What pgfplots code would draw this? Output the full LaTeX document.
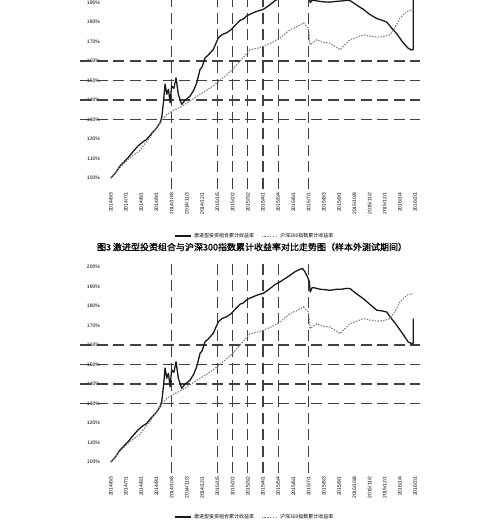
\documentclass[border=0pt]{standalone}
\usepackage{pgfplots}
\pgfplotsset{compat=1.18}
\usepackage{pgfplotstable}
\usepackage{fontspec}
\setmainfont{Liberation Sans}
\newfontfamily\cjk{Noto Sans CJK SC}
\newfontfamily\cjkb[FakeBold=1.2]{Noto Sans CJK SC}

\pgfplotstableread{
x y
0 100
0.3 102.5
0.61 106.2
0.9 108.5
1.2 111
1.49 113.8
1.8 116.5
2.1 118.5
2.36 119.8
2.7 123
3.0 125.5
3.24 128.4
3.35 131
3.46 138.6
3.57 148.2
3.68 143
3.79 145.5
3.9 138.6
4.0 147.2
4.15 146
4.29 151.4
4.44 142.9
4.66 137.8
4.9 140
5.21 142
5.45 145
5.65 148.9
5.87 155.7
6.0 157
6.2 161.7
6.4 163
6.74 166
7.07 171.9
7.3 173.5
7.62 174.5
7.9 176
8.2 178.5
8.5 180.9
8.7 181.5
8.94 183.2
9.15 184
9.6 185.5
10.03 186.5
10.4 188.5
10.8 191
11.12 192.3
11.45 194
11.78 195.7
12.1 197.5
12.44 198.8
12.6 199.2
12.77 197.4
12.95 194.5
13.05 192.3
13.1 187.2
13.25 189.5
13.42 189.2
13.8 188.5
14.1 188.3
14.4 188
14.8 188.5
15.2 188.6
15.5 189
15.72 188.9
16.1 186.5
16.6 183.7
17.0 181
17.48 177.8
17.8 177.5
18.13 176.9
18.45 173.5
18.79 170.1
19.2 165.5
19.55 161.5
19.77 160.7
19.88 161
19.88 173.5
}\solidB

\pgfplotstableread{
x y
0 100
0.3 102.5
0.61 106.2
0.9 108.5
1.2 111
1.49 113.8
1.8 116.5
2.1 118.5
2.36 119.8
2.7 123
3.0 125.5
3.24 128.4
3.35 131
3.46 138.6
3.57 148.2
3.68 143
3.79 145.5
3.9 138.6
4.0 147.2
4.15 146
4.29 151.4
4.44 142.9
4.66 137.8
4.9 140
5.21 142
5.45 145
5.65 148.9
5.87 155.7
6.0 157
6.2 161.7
6.4 163
6.74 166
7.07 171.9
7.3 173.5
7.62 174.5
7.9 176
8.2 178.5
8.5 180.9
8.7 181.5
8.94 183.2
9.15 184
9.6 185.5
10.03 186.5
10.4 188.5
10.8 191
11.12 192.3
11.45 194
11.78 195.7
12.1 197.5
12.44 198.8
12.6 199.2
12.77 197.4
12.95 194.5
13.05 193.5
13.1 190
13.25 191.2
13.42 191
13.8 190.5
14.1 190.3
14.4 190.2
14.8 190.6
15.2 190.8
15.5 191.2
15.72 191
16.1 189
16.6 186.5
17.0 184
17.48 181.8
17.8 181
18.13 180
18.45 177
18.79 174
19.2 169.5
19.55 166.5
19.77 165.6
19.88 166
19.88 196
}\solidA

\pgfplotstableread{
x y
0 100
0.6 105.5
1.27 110.5
1.9 114
2.12 116.4
2.6 121
3.1 127
3.7 132.8
4.2 135
4.69 136.9
5.2 139.5
5.67 142
6.2 144.5
6.72 147.2
7.4 151.5
8.04 155.9
8.5 160
8.96 164.1
9.15 165.8
9.6 166.5
10.03 167.5
10.6 169.5
11.12 171.8
11.45 174
11.78 176
12.2 177.5
12.66 179.5
12.99 176.9
13.1 168.4
13.53 170.9
14.0 169.5
14.4 169.2
14.75 167.5
15.07 165.8
15.4 168.5
15.72 170.9
16.1 172
16.6 173.5
17.0 172.8
17.48 172.2
17.9 172.5
18.35 173.5
18.7 177.5
19.0 182
19.45 185.5
19.88 186.3
}\dotted

\pgfplotsset{
  mychart/.style={
    scale only axis,
    width=339.4pt,
    xmin=-2, xmax=20.3,
    ymin=94.4,
    axis line style={draw=none},
    major tick length=0pt,
    xtick={0,...,20},
    xticklabels={2014/6/3,2014/7/1,2014/8/1,2014/9/1,2014/10/8,2014/11/3,2014/12/1,2015/1/5,2015/2/2,2015/3/2,2015/4/1,2015/5/4,2015/6/1,2015/7/1,2015/8/3,2015/9/1,2015/10/8,2015/11/2,2015/12/1,2016/1/4,2016/2/1},
    x tick label style={rotate=90, anchor=east, font=\fontsize{5}{6}\selectfont, text=black},
    ytick={100,110,...,200},
    yticklabels={100\%,110\%,120\%,130\%,140\%,150\%,160\%,170\%,180\%,190\%,200\%},
    y tick label style={anchor=east, xshift=23pt, font=\fontsize{5}{6}\selectfont, text=black},
    extra x ticks={4,7,8,9,10,11,13},
    extra x tick labels={},
    extra y ticks={130,140,150,160},
    extra y tick labels={},
    extra x tick style={grid=major},
    extra y tick style={grid=major},
    major grid style={black!75, line width=1.2pt, dash pattern=on 11pt off 5.5pt},
    legend columns=2,
    legend style={draw=none, fill=none, font=\cjk\fontsize{5}{6}\selectfont, anchor=center,
      /tikz/every even column/.append style={column sep=5pt}},
    legend image code/.code={\draw[#1] (0pt,0pt) -- (16pt,0pt);},
  },
  solidline/.style={black!90, line width=1.3pt, line join=round},
  dotline/.style={black!50, line width=1.1pt, dash pattern=on 1.5pt off 1.3pt},
}

\begin{document}
\begin{tikzpicture}
\begin{axis}[mychart, at={(80.3pt,339pt)}, anchor=south west, height=189pt, ymax=191.3,
  legend style={at={(0.515,-0.249)}}]
\addplot[solidline] table[x=x,y=y] {\solidA};
\addlegendentry{激进型投资组合累计收益率}
\addplot[dotline] table[x=x,y=y] {\dotted};
\addlegendentry{沪深300指数累计收益率}
\end{axis}
\node[font=\cjkb\fontsize{9}{10}\selectfont] at (252pt,281pt) {图3\ 激进型投资组合与沪深300指数累计收益率对比走势图（样本外测试期间）};
\begin{axis}[mychart, at={(80.3pt,55pt)}, anchor=south west, height=210pt, ymax=202,
  legend style={at={(0.515,-0.21)}}]
\addplot[solidline] table[x=x,y=y] {\solidB};
\addlegendentry{激进型投资组合累计收益率}
\addplot[dotline] table[x=x,y=y] {\dotted};
\addlegendentry{沪深300指数累计收益率}
\end{axis}
\pgfresetboundingbox
\useasboundingbox (0,0) rectangle (497pt,528pt);
\end{tikzpicture}
\end{document}
